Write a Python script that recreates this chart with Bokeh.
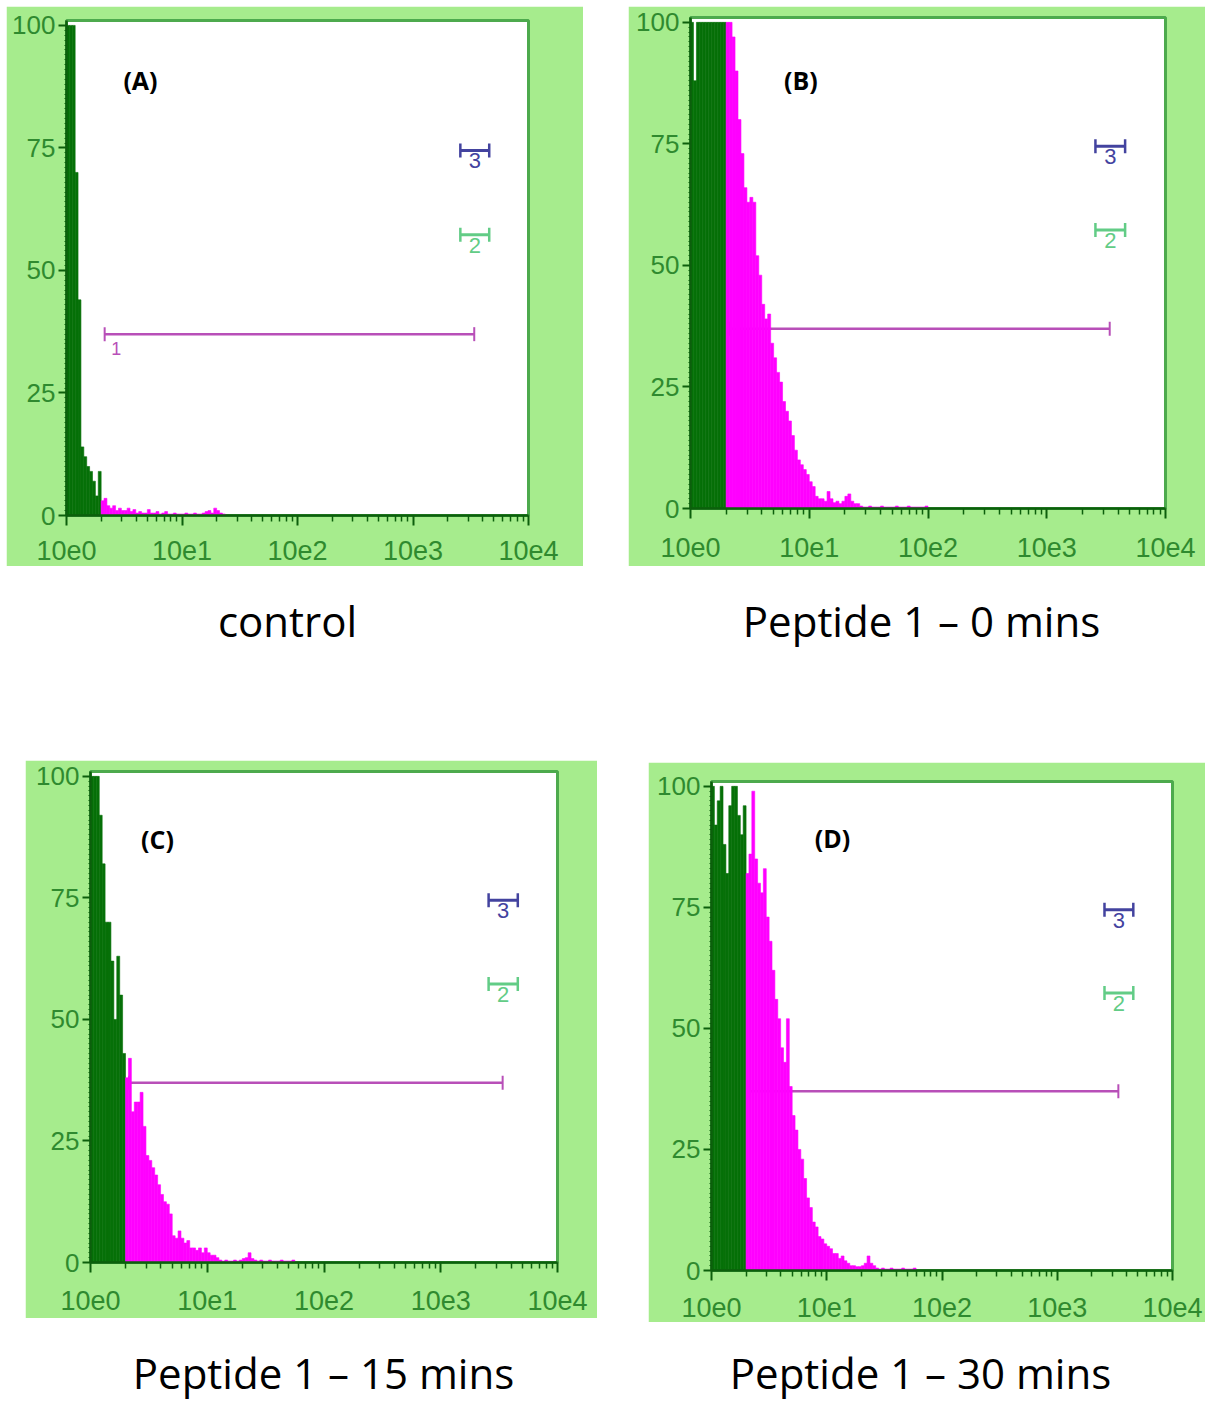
import numpy as np
from bokeh.plotting import figure
from bokeh.layouts import column, row
from bokeh.models import Spacer, FixedTicker, Range1d, CustomJSTickFormatter
from bokeh.core.properties import value
from bokeh.embed import file_html
from bokeh.resources import INLINE

# ---------------- data ----------------
channel_log_step = 0.025          # width of one histogram channel, in decades
split_log = 0.3                   # channels above this are in marker 1 (magenta)

hist_A = [100, 100, 100, 70, 44, 14, 12, 10, 9, 7, 4, 9,
          3, 3.5, 2, 1.5, 2, 1, 1.5, 1, 1, 1.5, 0.8, 1.2, 0.5, 0.8, 0.5, 0.5,
          1.2, 0.5, 0.5, 0.8, 0.3, 0.5, 0.8, 0.3, 0.3, 0.5, 0.3, 0.3, 0.3, 0.5,
          0.3, 0.3, 0.5, 0.3, 0.3, 0.5, 0.8, 1, 0.5, 1.5, 1, 0.5, 0.3]
hist_B = [100, 88, 100, 100, 100, 100, 100, 100, 100, 100, 100, 100,
          100, 100, 97, 90, 80, 73, 66, 63, 64, 63, 52, 48, 42, 39, 40, 34, 31,
          28, 26, 22, 20, 18, 15, 12, 10, 9, 8, 7, 5.5, 4.5, 2.5, 2, 2, 1.5, 3.5,
          2, 1.2, 1.5, 1, 1.5, 2.5, 3, 1.5, 1, 1, 0.5, 0.3, 0.3, 0.5, 0.3, 0.3,
          0.3, 0.5, 0.3, 0.3, 0.3, 0.3, 0.5, 0.3, 0.3, 0.3, 0.5, 0.3, 0.3, 0.3,
          0.3, 0.3, 0.5]
hist_C = [100, 100, 100, 92, 82, 70, 70, 62, 50, 63, 55, 43,
          38, 42, 31, 33, 33, 35, 28, 22, 21, 19.5, 18, 16, 14, 12.5, 12, 10,
          5.5, 5, 6.5, 5, 4, 4.5, 3, 3, 2.5, 3, 2, 3, 2, 1.5, 1.5, 1, 0.5, 0.3,
          0.5, 0.3, 0.3, 0.5, 0.3, 0.5, 0.8, 1, 2, 0.8, 0.5, 0.3, 0.5, 0.3, 0.3,
          0.5, 0.3, 0.3, 0.3, 0.5, 0.3, 0.3, 0.3, 0.5]
hist_D = [100, 92, 97, 100, 88, 82, 96, 100, 100, 94, 90, 96,
          82, 86, 99, 85, 80, 78, 83, 73, 68, 62, 56, 52, 46, 43, 52, 38, 32,
          29, 25, 23, 19, 15, 13, 10, 9, 7, 6.5, 5.5, 5, 4.5, 3.5, 3.5, 2.5, 3,
          2, 1.5, 1, 1, 0.8, 0.8, 1, 1.5, 3, 1.5, 1, 0.5, 0.3, 0.5, 0.3, 0.3,
          0.5, 0.3, 0.3, 0.3, 0.5, 0.3, 0.3, 0.3, 0.5]

panel_tags = ["(A)", "(B)", "(C)", "(D)"]
tag_x = [4.37, 8.5, 3.75, 11.2]
tag_y = [88.8, 88.1, 87.2, 89.3]
captions = ["control", "Peptide 1 \u2013 0 mins", "Peptide 1 \u2013 15 mins", "Peptide 1 \u2013 30 mins"]

x_ticks = [1, 10, 100, 1000, 10000]
x_tick_labels = ["10e0", "10e1", "10e2", "10e3", "10e4"]
x_minor_ticks = [m * 10 ** k for k in range(4) for m in range(2, 10)]
y_ticks = [0, 25, 50, 75, 100]
y_minor_ticks = list(range(0, 101, 1))

# markers (gates): low, high, level, label
gate1 = (2.14, 3390, 37, "1")
gate2 = (2570, 4570, 57.3, "2")
gate3 = (2570, 4570, 74.5, "3")

# ---------------- styles ----------------
BG = "#a6ec8d"
DARK = "#0c5f0c"
LABEL_GREEN = "#2f8a2f"
BAR_GREEN = "#067008"
BAR_MAGENTA = "#ff00ff"
GATE1_C = "#b84fb8"
GATE2_C = "#62cc86"
GATE3_C = "#43439f"


def make_panel(heights, tag, tx, ty, width, height, b_left, b_right, b_top, b_bottom,
               y_top, x_standoff, show_gate_label):
    p = figure(width=width, height=height, x_axis_type="log",
               x_range=Range1d(1, 10000), y_range=Range1d(0, y_top),
               output_backend="svg", toolbar_location=None, title=None,
               min_border_left=b_left, min_border_right=b_right,
               min_border_top=b_top, min_border_bottom=b_bottom)
    p.background_fill_color = "white"
    p.border_fill_color = BG
    p.outline_line_color = "#4daa4d"
    p.outline_line_width = 3
    p.grid.visible = False

    # gate 1 (drawn first so the histogram covers it)
    lo, hi, lev, lab = gate1
    p.segment(x0=[lo], y0=[lev], x1=[hi], y1=[lev], line_color=GATE1_C, line_width=2.5)
    p.scatter(x=[lo, hi], y=[lev, lev], marker="dash", angle=np.pi / 2, size=14,
              line_color=GATE1_C, line_width=2)
    if show_gate_label:
        p.text(x=[2.69], y=[34], text=[lab], text_font=value("Liberation Sans"),
               text_font_size="18px", text_color=GATE1_C, text_align="center",
               text_baseline="middle")

    # histogram
    n = len(heights)
    idx = np.arange(n)
    left = 10 ** (idx * channel_log_step)
    right = 10 ** ((idx + 1) * channel_log_step)
    colors = [BAR_GREEN if i * channel_log_step < split_log - 1e-9 else BAR_MAGENTA for i in idx]
    p.quad(left=left, right=right, bottom=0, top=heights, fill_color=colors,
           line_color=colors, line_width=0.6)

    # gates 2 and 3
    for (glo, ghi, glev, glab), col in ((gate2, GATE2_C), (gate3, GATE3_C)):
        p.segment(x0=[glo], y0=[glev], x1=[ghi], y1=[glev], line_color=col, line_width=3)
        p.scatter(x=[glo, ghi], y=[glev, glev], marker="dash", angle=np.pi / 2, size=14,
                  line_color=col, line_width=2.5)
        p.text(x=[np.sqrt(glo * ghi)], y=[glev - 0.6], text=[glab],
               text_font=value("Liberation Sans"), text_font_size="22px",
               text_color=col, text_align="center", text_baseline="top")

    # panel tag
    p.text(x=[tx], y=[ty], text=[tag], text_font=value("Open Sans"),
           text_font_style="bold", text_font_size="25px", text_color="black",
           text_align="center", text_baseline="middle")

    # axes
    xa = p.xaxis[0]
    xa.ticker = FixedTicker(ticks=x_ticks, minor_ticks=x_minor_ticks)
    xa.formatter = CustomJSTickFormatter(args=dict(xt=x_ticks, xl=x_tick_labels),
                                         code="const i = xt.indexOf(tick); return i >= 0 ? xl[i] : '';")
    ya = p.yaxis[0]
    ya.ticker = FixedTicker(ticks=y_ticks, minor_ticks=y_minor_ticks)
    for ax in (xa, ya):
        ax.axis_line_color = DARK
        ax.axis_line_width = 2.5
        ax.major_tick_line_color = DARK
        ax.minor_tick_line_color = DARK
        ax.major_tick_line_width = 2
        ax.major_tick_in = 0
        ax.minor_tick_in = 0
        ax.major_label_text_font = "Liberation Sans"
        ax.major_label_text_color = LABEL_GREEN
    ya.major_label_text_font_size = "26px"
    xa.major_label_text_font_size = "27px"
    xa.major_label_standoff = x_standoff
    xa.major_tick_out = 10
    xa.minor_tick_out = 6
    xa.minor_tick_line_width = 1.5
    ya.major_tick_out = 8
    ya.minor_tick_out = 2
    ya.minor_tick_line_width = 1
    ya.major_label_standoff = 3
    return p


def caption_strip(width, height, xs, ys, texts):
    c = figure(width=width, height=height, x_range=Range1d(0, width),
               y_range=Range1d(height, 0), output_backend="svg",
               toolbar_location=None, min_border=0, title=None,
               x_axis_location=None, y_axis_location=None)
    c.grid.visible = False
    c.outline_line_color = None
    c.background_fill_color = "white"
    c.border_fill_color = "white"
    c.text(x=xs, y=ys, text=texts, text_font=value("Open Sans"),
           text_font_size="42px", text_color="black", text_align="center",
           text_baseline="alphabetic")
    return c


pA = make_panel(hist_A, panel_tags[0], tag_x[0], tag_y[0], 577, 560, 60, 55, 14, 51, 101, 15, True)
pB = make_panel(hist_B, panel_tags[1], tag_x[1], tag_y[1], 577, 560, 62, 40, 11, 58, 101, 19, False)
pC = make_panel(hist_C, panel_tags[2], tag_x[2], tag_y[2], 572, 558, 65, 40, 11, 56, 101, 18, False)
pD = make_panel(hist_D, panel_tags[3], tag_x[3], tag_y[3], 557, 560, 63, 33, 19, 52, 101, 17, False)

cap1 = caption_strip(1205, 194, [287, 921], [54, 54], captions[:2])
cap2 = caption_strip(1205, 79, [323, 920], [50, 50], captions[2:])

layout = column(
    Spacer(width=1205, height=6),
    row(Spacer(width=6, height=560), column(pA), Spacer(width=45, height=560), column(pB)),
    cap1,
    row(Spacer(width=25, height=562), column(pC), Spacer(width=51, height=562),
        column(Spacer(width=557, height=2), pD)),
    cap2,
)

open("out.html", "w").write(file_html(layout, INLINE))
